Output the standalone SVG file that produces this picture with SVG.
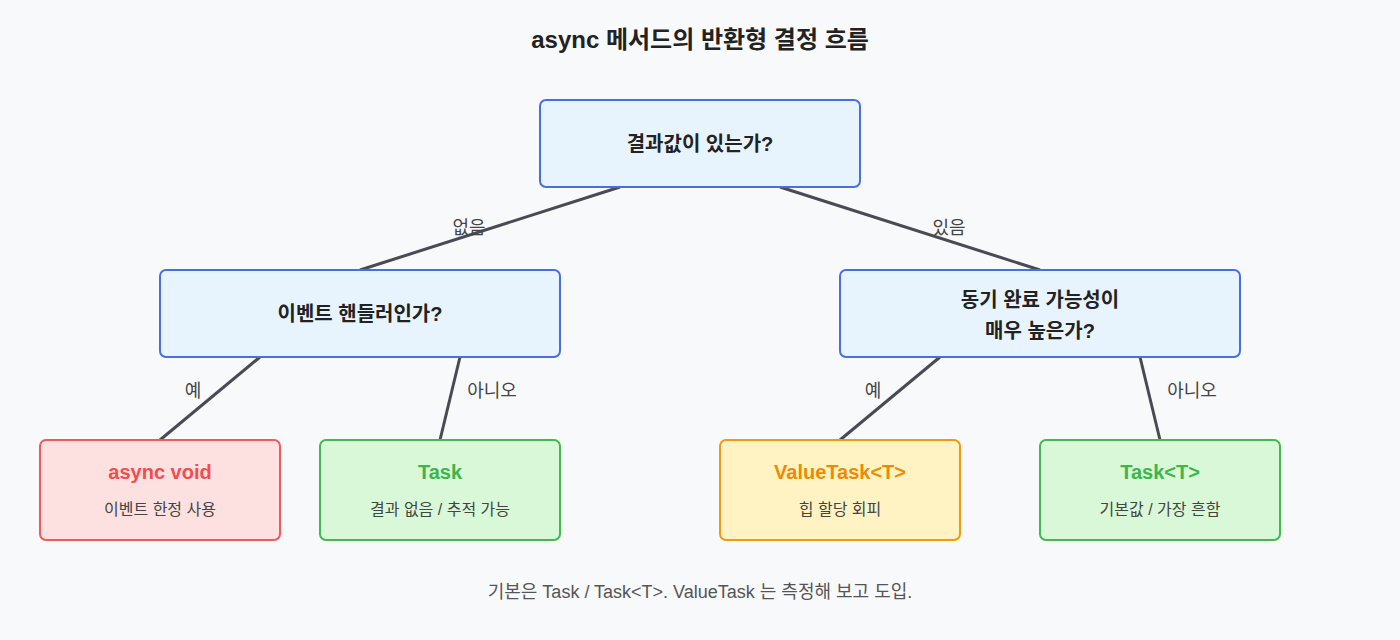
<svg xmlns="http://www.w3.org/2000/svg" width="1400" height="640" viewBox="0 0 1400 640">
<style>
text{font-family:"Liberation Sans","Noto Sans CJK KR",sans-serif;text-anchor:middle}
.q{fill:#e8f4fd;stroke:#4a6ee0;stroke-width:2}
.qt{font-size:20px;font-weight:bold;fill:#222}
.lbl{font-size:18px;fill:#444}
.sub{font-size:16px;fill:#444}
.h{font-size:20px;font-weight:bold}
.c{stroke:#4a4a55;stroke-width:3;fill:none}
</style>
<rect width="1400" height="640" fill="#f8f9fb"/>
<text x="700" y="48" font-size="24" font-weight="bold" fill="#222">async 메서드의 반환형 결정 흐름</text>
<g id="connectors">
<line class="c" x1="620" y1="187" x2="360" y2="270"/>
<line class="c" x1="780" y1="187" x2="1040" y2="270"/>
<line class="c" x1="260" y1="357" x2="160" y2="440"/>
<line class="c" x1="460" y1="357" x2="440" y2="440"/>
<line class="c" x1="940" y1="357" x2="840" y2="440"/>
<line class="c" x1="1140" y1="357" x2="1160" y2="440"/>
<text class="lbl" x="469" y="234">없음</text>
<text class="lbl" x="949" y="234">있음</text>
<text class="lbl" x="193" y="397">예</text>
<text class="lbl" x="492" y="397">아니오</text>
<text class="lbl" x="873" y="397">예</text>
<text class="lbl" x="1192" y="397">아니오</text>
</g>
<g id="root"><rect class="q" x="540" y="100" width="320" height="87" rx="6"/><text class="qt" x="700" y="151">결과값이 있는가?</text></g>
<g id="handler"><rect class="q" x="160" y="270" width="400" height="87" rx="6"/><text class="qt" x="360" y="321">이벤트 핸들러인가?</text></g>
<g id="sync"><rect class="q" x="840" y="270" width="400" height="87" rx="6"/><text class="qt" x="1040" y="307">동기 완료 가능성이</text><text class="qt" x="1040" y="338">매우 높은가?</text></g>
<g id="asyncvoid"><rect x="40" y="440" width="240" height="100" rx="6" fill="#fde0e0" stroke="#f05a5a" stroke-width="2"/><text class="h" x="160" y="479" fill="#f04e4e">async void</text><text class="sub" x="160" y="515">이벤트 한정 사용</text></g>
<g id="task"><rect x="320" y="440" width="240" height="100" rx="6" fill="#d8f8d8" stroke="#45b94f" stroke-width="2"/><text class="h" x="440" y="479" fill="#3db54a">Task</text><text class="sub" x="440" y="515">결과 없음 / 추적 가능</text></g>
<g id="valuetask"><rect x="720" y="440" width="240" height="100" rx="6" fill="#fff3c4" stroke="#f09a10" stroke-width="2"/><text class="h" x="840" y="479" fill="#ee8a00">ValueTask&lt;T&gt;</text><text class="sub" x="840" y="515">힙 할당 회피</text></g>
<g id="taskt"><rect x="1040" y="440" width="240" height="100" rx="6" fill="#d8f8d8" stroke="#45b94f" stroke-width="2"/><text class="h" x="1160" y="479" fill="#3db54a">Task&lt;T&gt;</text><text class="sub" x="1160" y="515">기본값 / 가장 흔함</text></g>
<text x="700" y="598" font-size="18" fill="#555">기본은 Task / Task&lt;T&gt;. ValueTask 는 측정해 보고 도입.</text>
</svg>
